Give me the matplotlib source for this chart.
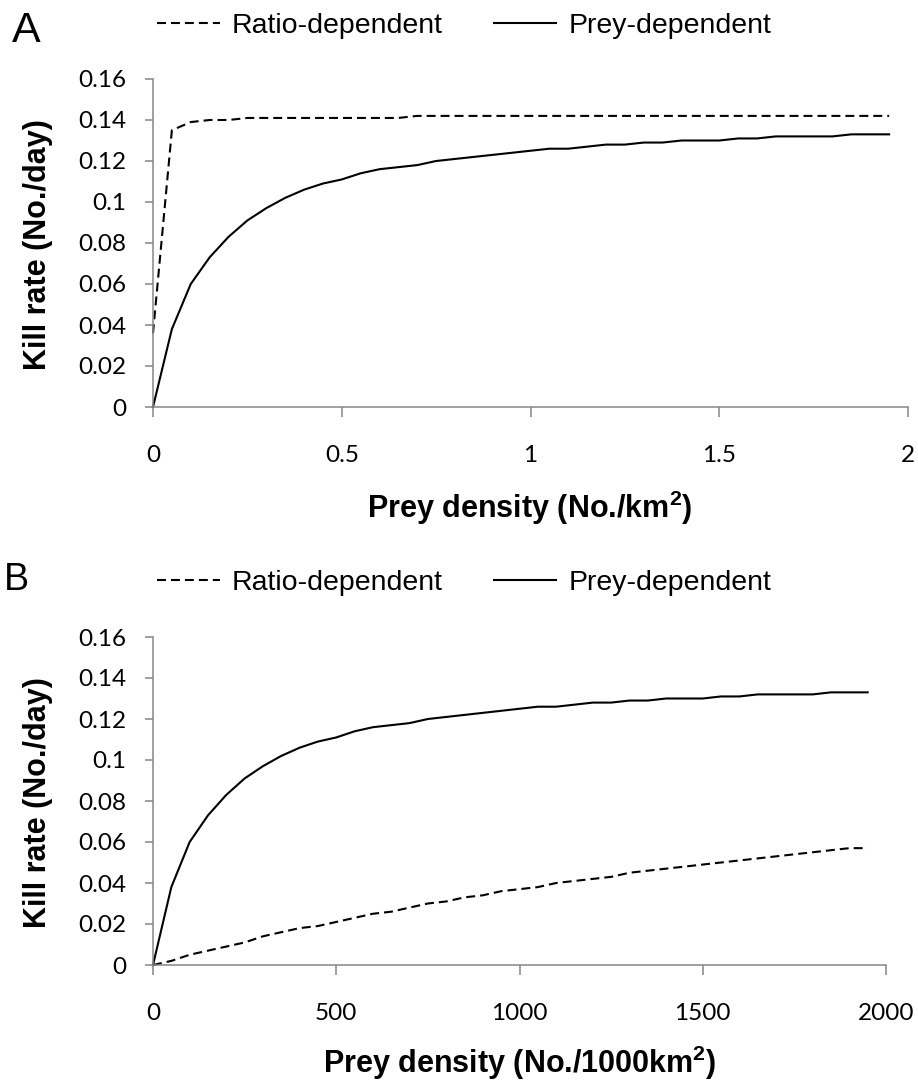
import matplotlib
matplotlib.use("Agg")
import matplotlib.pyplot as plt

plt.rcParams["font.family"] = ["Liberation Sans", "DejaVu Sans"]
plt.rcParams["mathtext.fontset"] = "custom"
plt.rcParams["mathtext.rm"] = "Liberation Sans"
plt.rcParams["mathtext.bf"] = "Liberation Sans:bold"

# Prey density grids
density_a = [0.00, 0.05, 0.10, 0.15, 0.20, 0.25, 0.30, 0.35, 0.40, 0.45,
             0.50, 0.55, 0.60, 0.65, 0.70, 0.75, 0.80, 0.85, 0.90, 0.95,
             1.00, 1.05, 1.10, 1.15, 1.20, 1.25, 1.30, 1.35, 1.40, 1.45,
             1.50, 1.55, 1.60, 1.65, 1.70, 1.75, 1.80, 1.85, 1.90, 1.95]
density_b = [0, 50, 100, 150, 200, 250, 300, 350, 400, 450,
             500, 550, 600, 650, 700, 750, 800, 850, 900, 950,
             1000, 1050, 1100, 1150, 1200, 1250, 1300, 1350, 1400, 1450,
             1500, 1550, 1600, 1650, 1700, 1750, 1800, 1850, 1900, 1950]

# Kill rates (No./day)
prey_dep_a = [0.000, 0.038, 0.060, 0.073, 0.083, 0.091, 0.097, 0.102, 0.106, 0.109,
              0.111, 0.114, 0.116, 0.117, 0.118, 0.120, 0.121, 0.122, 0.123, 0.124,
              0.125, 0.126, 0.126, 0.127, 0.128, 0.128, 0.129, 0.129, 0.130, 0.130,
              0.130, 0.131, 0.131, 0.132, 0.132, 0.132, 0.132, 0.133, 0.133, 0.133]
ratio_dep_a = [0.036, 0.135, 0.139, 0.140, 0.140, 0.141, 0.141, 0.141, 0.141, 0.141,
               0.141, 0.141, 0.141, 0.141, 0.142, 0.142, 0.142, 0.142, 0.142, 0.142,
               0.142, 0.142, 0.142, 0.142, 0.142, 0.142, 0.142, 0.142, 0.142, 0.142,
               0.142, 0.142, 0.142, 0.142, 0.142, 0.142, 0.142, 0.142, 0.142, 0.142]
prey_dep_b = [0.000, 0.038, 0.060, 0.073, 0.083, 0.091, 0.097, 0.102, 0.106, 0.109,
              0.111, 0.114, 0.116, 0.117, 0.118, 0.120, 0.121, 0.122, 0.123, 0.124,
              0.125, 0.126, 0.126, 0.127, 0.128, 0.128, 0.129, 0.129, 0.130, 0.130,
              0.130, 0.131, 0.131, 0.132, 0.132, 0.132, 0.132, 0.133, 0.133, 0.133]
ratio_dep_b = [0.000, 0.002, 0.005, 0.007, 0.009, 0.011, 0.014, 0.016, 0.018, 0.019,
               0.021, 0.023, 0.025, 0.026, 0.028, 0.030, 0.031, 0.033, 0.034, 0.036,
               0.037, 0.038, 0.040, 0.041, 0.042, 0.043, 0.045, 0.046, 0.047, 0.048,
               0.049, 0.050, 0.051, 0.052, 0.053, 0.054, 0.055, 0.056, 0.057, 0.057]

y_ticks = [0, 0.02, 0.04, 0.06, 0.08, 0.10, 0.12, 0.14, 0.16]
y_tick_labels = ["0", "0.02", "0.04", "0.06", "0.08", "0.1", "0.12", "0.14", "0.16"]
x_ticks_a = [0, 0.5, 1, 1.5, 2]
x_tick_labels_a = ["0", "0.5", "1", "1.5", "2"]
x_ticks_b = [0, 500, 1000, 1500, 2000]
x_tick_labels_b = ["0", "500", "1000", "1500", "2000"]

series_names = ["Ratio-dependent", "Prey-dependent"]

W, H = 918, 1089
fig = plt.figure(figsize=(W / 100, H / 100), dpi=100)
fig.patch.set_facecolor("white")

AXIS_GREY = "#868686"
TICK_FONT = ["Lato", "DejaVu Sans"]
DASH = (0, (4.3, 2.4))


def style_axes(ax, xlim, xticks, xlabels):
    ax.set_xlim(*xlim)
    ax.set_ylim(0, 0.16)
    for side in ("top", "right"):
        ax.spines[side].set_visible(False)
    for side in ("left", "bottom"):
        ax.spines[side].set_color(AXIS_GREY)
        ax.spines[side].set_linewidth(1.1)
    ax.set_yticks(y_ticks)
    ax.set_yticklabels(y_tick_labels, fontfamily=TICK_FONT, fontsize=17.5)
    ax.set_xticks(xticks)
    ax.set_xticklabels(xlabels, fontfamily=TICK_FONT, fontsize=17.5)
    ax.tick_params(axis="y", direction="out", length=5.5, width=1.1,
                   color=AXIS_GREY, pad=14)
    ax.tick_params(axis="x", direction="out", length=7.5, width=1.1,
                   color=AXIS_GREY, pad=20)


def add_legend(ax, handles, y_px):
    ax.legend(handles, series_names, ncol=2, loc="center left",
              bbox_to_anchor=(157 / W, 1 - y_px / H),
              bbox_transform=fig.transFigure, frameon=False,
              fontsize=20.5, handlelength=2.2, handletextpad=0.42,
              columnspacing=1.8, borderpad=0, borderaxespad=0)


# Panel A
ax_a = fig.add_axes([153 / W, 1 - 407 / H, 755 / W, 328 / H])
style_axes(ax_a, (0, 2), x_ticks_a, x_tick_labels_a)
l_ratio_a, = ax_a.plot(density_a, ratio_dep_a, color="black", lw=1.5,
                       linestyle=DASH, clip_on=False)
l_prey_a, = ax_a.plot(density_a, prey_dep_a, color="black", lw=1.5,
                      clip_on=False)
add_legend(ax_a, [l_ratio_a, l_prey_a], 26)

# Panel B
ax_b = fig.add_axes([153 / W, 1 - 965 / H, 733 / W, 328 / H])
style_axes(ax_b, (0, 2000), x_ticks_b, x_tick_labels_b)
l_ratio_b, = ax_b.plot(density_b, ratio_dep_b, color="black", lw=1.5,
                       linestyle=DASH, clip_on=False)
l_prey_b, = ax_b.plot(density_b, prey_dep_b, color="black", lw=1.5,
                      clip_on=False)
add_legend(ax_b, [l_ratio_b, l_prey_b], 583)

# Axis titles
label_kw = dict(fontsize=22, fontweight="bold", ha="center", va="center")
fig.text(38 / W, 1 - 245 / H, "Kill rate (No./day)", rotation=90, **label_kw)
fig.text(38 / W, 1 - 803 / H, "Kill rate (No./day)", rotation=90, **label_kw)
fig.text(530 / W, 1 - 508 / H, r"Prey density (No./km$^{\mathbf{2}}$)", **label_kw)
fig.text(520 / W, 1 - 1063 / H, r"Prey density (No./1000km$^{\mathbf{2}}$)", **label_kw)

# Panel letters
fig.text(12 / W, 1 - 42 / H, "A", fontsize=31, ha="left", va="baseline")
fig.text(4 / W, 1 - 590 / H, "B", fontsize=27, ha="left", va="baseline")

fig.savefig("out.png", dpi=100, facecolor="white")
